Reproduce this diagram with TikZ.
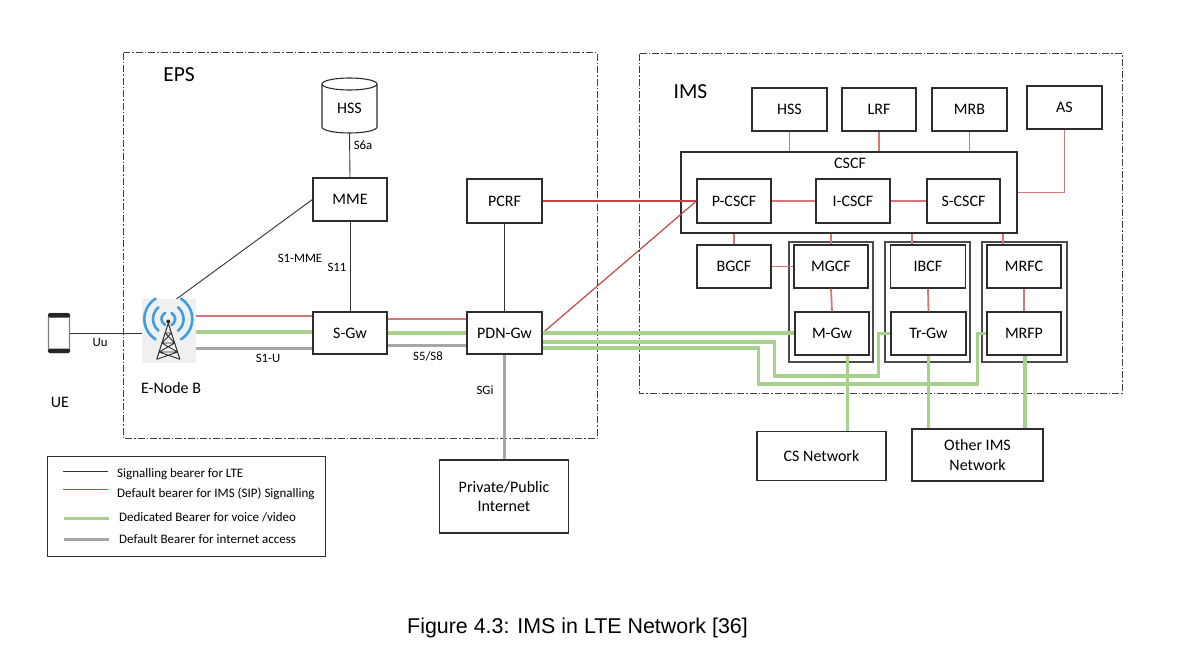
\documentclass[tikz,border=0pt]{standalone}
\usepackage{fontspec}
\setmainfont{Carlito}
\newfontfamily\capfont{Liberation Sans}
\usetikzlibrary{calc}
\definecolor{sigred}{RGB}{200,70,70}
\definecolor{imsred}{RGB}{214,118,118}
\definecolor{vgreen}{RGB}{169,209,142}
\definecolor{igrey}{RGB}{166,166,166}
\definecolor{wblue}{RGB}{62,158,224}
\definecolor{bord}{RGB}{45,45,45}
\begin{document}
\begin{tikzpicture}[x=1pt,y=-1pt,
  dd/.style={draw=black!75, line width=0.9pt, dash pattern=on 7pt off 2pt on 1.5pt off 2pt},
  box/.style={draw=bord, line width=1.1pt, fill=white, inner sep=0pt, minimum width=74pt, minimum height=43pt, font=\fontsize{16}{19}\selectfont, align=center},
  grp/.style={draw=bord!85, line width=1.3pt, inner sep=0pt},
  sm/.style={font=\fontsize{12.8}{15}\selectfont, inner sep=0pt},
  lab/.style={font=\fontsize{16}{19}\selectfont, inner sep=0pt},
  big/.style={font=\fontsize{21.5}{25}\selectfont, inner sep=0pt},
  lt/.style={anchor=west, font=\fontsize{13}{15}\selectfont, inner sep=0pt},
  sig/.style={draw=black!80, line width=0.9pt},
  rs/.style={draw=sigred, line width=1.2pt},
  ri/.style={draw=imsred, line width=1.8pt},
  gl/.style={draw=vgreen, line width=3.4pt},
  gy/.style={draw=igrey, line width=3pt}]
\fill[white] (0,0) rectangle (1196,664);
\useasboundingbox (0,0) rectangle (1196,664);

% domains
\draw[dd] (123.5,52.5) rectangle (597,438.5);
\draw[dd] (639,53.5) rectangle (1122,393);
\node[big] (eps) at (179,75) {EPS};
\node[big] (ims) at (690.5,92) {IMS};

% EPS HSS cylinder
\draw[line width=1.1pt, draw=bord, fill=white] (322,84) -- (322,127) arc[start angle=180,end angle=360,x radius=27.5pt,y radius=6pt] -- (377,84);
\draw[line width=1.1pt, draw=bord, fill=white] (349.5,84) ellipse [x radius=27.5pt, y radius=6pt];
\node[lab, minimum width=55pt, minimum height=50pt] (hsse) at (349.5,108) {HSS};

% EPS nodes
\node[box] (mme) at (350,199.5) {MME};
\node[box, minimum width=75pt, minimum height=44pt] (pcrf) at (504.5,201) {PCRF};
\node[box, minimum height=42pt] (sgw) at (350,333) {S-Gw};
\node[box, minimum width=75pt, minimum height=42pt] (pdn) at (504.5,333) {PDN-Gw};
\node[box, minimum width=129pt, minimum height=73pt, font=\fontsize{16}{19.5}\selectfont] (inet) at (504,496.5) {Private/Public\\Internet};

% UE phone
\node[minimum width=22pt, minimum height=40pt, inner sep=0pt] (ue) at (59,333) {};
\draw[line width=1.3pt, draw=black!50, rounded corners=2.5pt] (48.5,313.5) rectangle (69.5,352.5);
\fill[black!85, rounded corners=1.5pt] (48,313) rectangle (70,317.5);
\fill[black!85, rounded corners=1.5pt] (48,348.5) rectangle (70,353);

% eNodeB icon
\node[fill=black!6, minimum width=54pt, minimum height=64pt, inner sep=0pt] (enb) at (168.7,331) {};
\foreach \r/\a in {24pt/58, 15.3pt/50, 6.8pt/62} {
  \draw[wblue, line width=2.6pt, line cap=round] (168.3,319) ++(-\a:\r) arc[start angle=-\a, end angle=\a, radius=\r];
  \draw[wblue, line width=2.6pt, line cap=round] (168.3,319) ++(180-\a:\r) arc[start angle=180-\a, end angle=180+\a, radius=\r];
}
\draw[bord, line width=1pt] (156.7,359.3) -- (168.3,323.3) -- (179.9,359.3);
\draw[bord, line width=0.9pt] (165.2,333) -- (171.4,333) (161.95,343) -- (174.65,343) (159.05,352) -- (177.55,352)
  (165.2,333) -- (174.65,343) (171.4,333) -- (161.95,343)
  (161.95,343) -- (177.55,352) (174.65,343) -- (159.05,352)
  (159.05,352) -- (179.9,359.3) (177.55,352) -- (156.7,359.3);
\fill[bord] (168.3,321.5) circle (2pt);

% labels
\node[sm] (ls6a) at (363,145) {S6a};
\node[sm] (ls1mme) at (300,258) {S1-MME};
\node[sm] (ls11) at (337,267) {S11};
\node[sm] (ls1u) at (268,358) {S1-U};
\node[sm] (ls5) at (428,356) {S5/S8};
\node[sm] (lsgi) at (485,390) {SGi};
\node[sm] (luu) at (100,342) {Uu};
\node[lab] (lue) at (60,402) {UE};
\node[lab] (lenb) at (171,388) {E-Node B};

% IMS nodes
\node[box, minimum width=75pt] (hssi) at (789.5,109.5) {HSS};
\node[box] (lrf) at (879,109.5) {LRF};
\node[box, minimum width=75pt] (mrb) at (969.5,109.5) {MRB};
\node[box, minimum width=75pt] (asrv) at (1064.5,107.5) {AS};
\node[draw=bord, line width=1.1pt, minimum width=336pt, minimum height=81pt, inner sep=0pt] (cscf) at (849,192.5) {};
\node[lab] (lcscf) at (850,163) {CSCF};
\node[box, minimum height=44pt] (pcscf) at (734,201) {P-CSCF};
\node[box, minimum height=44pt] (icscf) at (853,201) {I-CSCF};
\node[box, minimum width=73pt, minimum height=44pt] (scscf) at (963.5,201) {S-CSCF};

\node[grp, minimum width=84pt, minimum height=120pt] (g1) at (831,302) {};
\node[grp, minimum width=85pt, minimum height=120pt] (g2) at (927.5,302) {};
\node[grp, minimum width=85pt, minimum height=120pt] (g3) at (1024.5,302) {};
\node[box] (bgcf) at (734,266.5) {BGCF};
\node[box] (mgcf) at (831,266.5) {MGCF};
\node[box] (mgw) at (832,333.5) {M-Gw};
\node[box, minimum width=75pt] (ibcf) at (928,266.5) {IBCF};
\node[box, minimum width=75pt] (trgw) at (928.5,333.5) {Tr-Gw};
\node[box] (mrfc) at (1024,266.5) {MRFC};
\node[box] (mrfp) at (1024,333.5) {MRFP};

\node[box, minimum width=129pt, minimum height=49pt] (csnet) at (821.5,456.3) {CS Network};
\node[box, minimum width=131pt, minimum height=52pt, font=\fontsize{16}{20}\selectfont] (other) at (977.5,455) {Other IMS\\Network};

% EPS connectors
\draw[sig] ([xshift=8pt]enb.north) -- (mme.west);
\draw[sig] (hsse.south) -- (mme.north);
\draw[sig] (mme.south) -- (sgw.north);
\draw[sig] (pcrf.south) -- (pdn.north);
\draw[sig] (ue.east) -- (ue.east -| enb.west);

\coordinate (e1) at ([yshift=15pt]enb.east);
\coordinate (e2) at ([yshift=-1pt]enb.east);
\coordinate (e3) at ([yshift=-17.5pt]enb.east);
\draw[ri] (e1) -- (e1 -| sgw.west);
\draw[gl] (e2) -- (e2 -| sgw.west);
\draw[gy] (e3) -- (e3 -| sgw.west);

\draw[ri] ([yshift=14pt]sgw.east) -- ([yshift=14pt]pdn.west);
\draw[gl] (sgw.east) -- (pdn.west);
\draw[gy] ([yshift=-12pt]sgw.east) -- ([yshift=-12pt]pdn.west);
\draw[gy] (pdn.south) -- (pdn.south |- inet.north);

\draw[rs] (pdn.east) -- (pcscf.west);
\draw[rs] (pcrf.east) -- (pcscf.west);

% green bearers to IMS
\draw[gl] (pdn.east) -- (pdn.east -| mgw.west);
\coordinate (g2s) at ([yshift=-9pt]pdn.east);
\draw[gl] (g2s) -- ++(232,0) |- (878.5,376) |- (trgw.west);
\coordinate (g3s) at ([yshift=-15pt]pdn.east);
\draw[gl] (g3s) -- ++(216,0) |- (977.6,384) |- (mrfp.west);
\coordinate (v1) at ([xshift=15.5pt]mgw.south);
\draw[gl] (v1) -- (v1 |- csnet.north);
\draw[gl] (trgw.south) -- (trgw.south |- other.north);
\coordinate (v3) at ([xshift=1pt]mrfp.south);
\draw[gl] (v3) -- (v3 |- other.north);

% IMS red connectors
\draw[ri] (hssi.south) -- (hssi.south |- cscf.north);
\draw[ri] (lrf.south) -- (lrf.south |- cscf.north);
\draw[ri] (mrb.south) -- (mrb.south |- cscf.north);
\draw[ri] (asrv.south) |- (cscf.east);
\draw[ri] (pcscf.east) -- (icscf.west);
\draw[ri] (icscf.east) -- (scscf.west);
\draw[ri] (bgcf.north |- cscf.south) -- (bgcf.north);
\draw[ri] (mgcf.north |- cscf.south) -- (mgcf.north);
\coordinate (c3) at ([xshift=-16pt]ibcf.north);
\draw[ri] (c3 |- cscf.south) -- (c3);
\coordinate (c4) at ([xshift=-21pt]mrfc.north);
\draw[ri] (c4 |- cscf.south) -- (c4);
\draw[ri] (bgcf.east) -- (mgcf.west);
\draw[ri] (mgcf.south) -- (mgw.north);
\draw[ri] (ibcf.south) -- (trgw.north);
\draw[ri] (mrfc.south) -- (mrfp.north);

% legend
\node[draw=bord, line width=1pt, minimum width=278pt, minimum height=100pt, inner sep=0pt] (leg) at (186,506) {};
\draw[sig] (63,471) -- (108,471);
\node[lt] (t1) at (117,474.5) {Signalling bearer for LTE};
\draw[draw=sigred, line width=1pt] (63,489) -- (108,489);
\node[lt] (t2) at (117,493.5) {Default bearer for IMS (SIP) Signalling};
\draw[gl, line width=3pt] (64,518) -- (109,518);
\node[lt] (t3) at (119,517) {Dedicated Bearer for voice /video};
\draw[gy] (64,539) -- (109,539);
\node[lt] (t4) at (119,539) {Default Bearer for internet access};

% caption
\node[font=\capfont\fontsize{21.4}{25}\selectfont, inner sep=0pt] (cap) at (577.5,628) {Figure 4.3: IMS in LTE Network [36]};
\end{tikzpicture}
\end{document}
